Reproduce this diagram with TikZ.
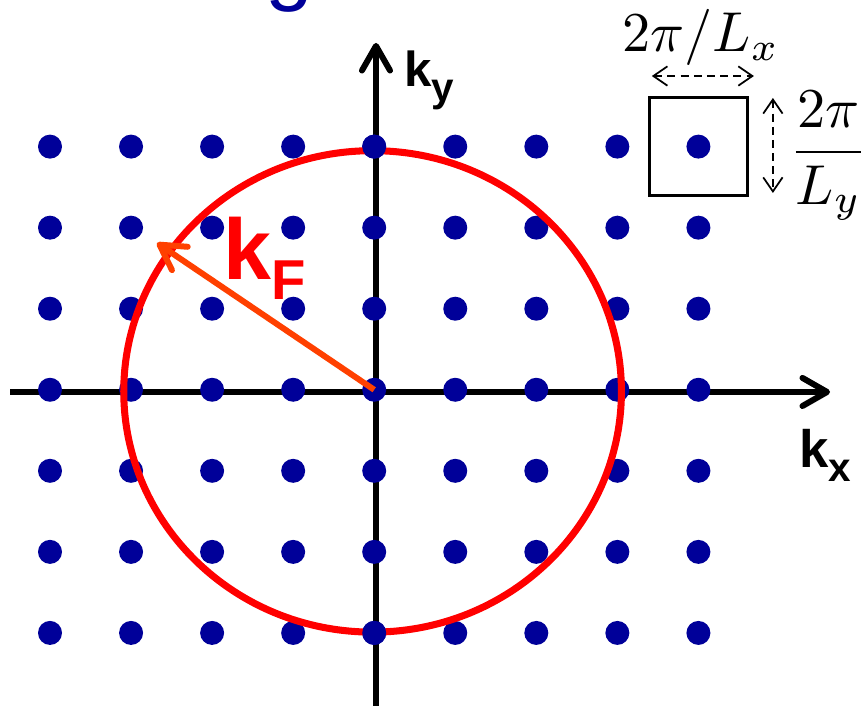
\documentclass[tikz,border=0pt]{standalone}
\usepackage{fontspec}
\setsansfont{Liberation Sans}
\usetikzlibrary{arrows.meta}
\definecolor{dotblue}{RGB}{0,0,153}
\definecolor{kforange}{RGB}{255,64,0}
\tikzset{
  barb/.tip={Straight Barb[length=14pt,width=16pt,round]},
  thinbarb/.tip={Straight Barb[length=8pt,width=11pt]},
  axis/.style={line width=3.4pt,-barb},
  lattice/.style={fill=dotblue},
  fermi/.style={red,line width=4pt},
  kvec/.style={kforange,line width=3.4pt,-barb},
  period/.style={line width=1pt,dash pattern=on 4.5pt off 3pt,thinbarb-thinbarb},
  klabel/.style={inner sep=0pt,anchor=base west}
}
\begin{document}
\begin{tikzpicture}[x=1.621cm,y=1.621cm]
\useasboundingbox (-4.617,-3.901) rectangle (6.080,4.809);
\coordinate (O) at (0,0);
\coordinate (kxstart) at (-4.49,-0.027);
\coordinate (kxend) at (5.624,-0.027);
\coordinate (kystart) at (0.022,-3.95);
\coordinate (kyend) at (0.022,4.279);
\coordinate (kF) at (-2.68,1.811);
\node[klabel,text=dotblue,font=\sffamily\fontsize{49}{50}\selectfont] (title) at (-1.347,4.871) {g};
\draw[axis] (kxstart)--(kxend);
\draw[axis] (kystart)--(kyend);
\foreach \i in {-4,...,4}
  \foreach \j in {-3,...,3}
    \fill[lattice] (\i,\j) circle (0.148);
\draw[fermi] (-0.02,-0.02) ellipse [x radius=3.07, y radius=2.97];
\foreach \j in {-3,3}
  \fill[lattice] (0,\j) circle (0.148);
\draw[kvec] (O)--(kF);
\node[klabel,text=red,font=\sffamily\bfseries\fontsize{49}{50}\selectfont] (kFlabel) at (-1.865,1.355) {k\raisebox{-11pt}{\fontsize{32}{34}\selectfont F}};
\node[klabel,font=\sffamily\bfseries\fontsize{28}{30}\selectfont] (kylabel) at (0.368,3.736) {k\raisebox{-8pt}{\fontsize{23}{25}\selectfont y}};
\node[klabel,font=\sffamily\bfseries\fontsize{30}{32}\selectfont] (kxlabel) at (5.239,-0.96) {k\raisebox{-8pt}{\fontsize{23}{25}\selectfont x}};
\draw[line width=1.7pt] (3.4,2.4) rectangle (4.6,3.6);
\draw[period] (3.425,3.871)--(4.685,3.871);
\draw[period] (4.919,3.6)--(4.919,2.428);
\node[scale=3.2,inner sep=0pt,anchor=base] (Lx) at (4.031,4.168) {$2\pi/L_x$};
\node[scale=3.2,inner sep=0pt,anchor=base west] (Ly) at (5.106,2.761) {$\displaystyle\frac{2\pi}{L_y}$};
\end{tikzpicture}
\end{document}
